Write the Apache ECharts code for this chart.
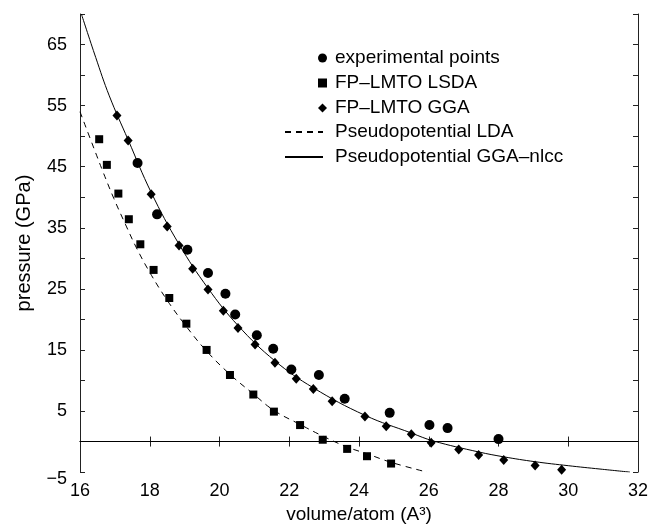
<!DOCTYPE html>
<html><head><meta charset="utf-8">
<script src="https://cdn.jsdelivr.net/npm/echarts@6/dist/echarts.min.js"></script>
<style>html,body{margin:0;padding:0;background:#fff}#c{width:653px;height:529px}</style>
</head><body><div id="c"></div>
<script>
// experimental points
const expVol = [17.65,18.21,19.08,19.67,20.17,20.45,21.07,21.54,22.06,22.85,23.59,24.88,26.02,26.54,28.00];
const expP   = [45.6,37.2,31.4,27.6,24.2,20.8,17.4,15.2,11.8,10.9,7.0,4.7,2.7,2.2,0.4];
// FP-LMTO LSDA
const lsdaVol = [16.55,16.77,17.10,17.40,17.73,18.11,18.56,19.05,19.63,20.30,20.97,21.56,22.31,22.96,23.66,24.23,24.92];
const lsdaP   = [49.5,45.3,40.6,36.4,32.3,28.1,23.5,19.3,15.0,10.9,7.7,4.9,2.7,0.3,-1.2,-2.4,-3.6];
// FP-LMTO GGA
const ggaVol = [17.06,17.38,18.04,18.50,18.84,19.23,19.67,20.11,20.53,21.02,21.59,22.20,22.69,23.23,24.17,24.78,25.50,26.07,26.86,27.43,28.15,29.05,29.81];
const ggaP   = [53.4,49.3,40.5,35.2,32.1,28.3,24.9,21.4,18.6,15.9,12.9,10.3,8.6,6.6,4.1,2.5,1.2,-0.2,-1.3,-2.2,-3.0,-3.9,-4.6];
// Pseudopotential LDA (dashed curve)
const ldaVol = [16.0,16.40,16.65,16.97,17.30,17.62,18.01,18.48,19.00,19.60,20.30,20.97,21.56,22.31,22.96,23.66,24.23,24.92,25.95];
const ldaP   = [54.0,48.0,44.3,39.8,35.6,31.7,27.6,23.3,19.2,15.0,11.0,7.8,5.1,2.8,0.9,-0.9,-2.0,-3.4,-5.0];
// Pseudopotential GGA-nlcc (solid curve)
const nlccVol = [16.04,16.45,16.84,17.38,18.04,18.84,19.67,20.53,21.59,22.69,24.17,25.50,26.13,27.43,28.15,29.05,30.00,30.91,31.77];
const nlccP   = [70.0,62.9,56.6,49.4,40.8,32.3,25.1,19.0,13.2,8.8,4.3,1.4,0.1,-1.7,-2.5,-3.3,-3.95,-4.5,-5.0];
// reference line
const zeroLine = 0;
// tick labels
const xTickLabels = [16,18,20,22,24,26,28,30,32];
const yTickLabels = [-5,5,15,25,35,45,55,65];

const names = ['experimental points','FP–LMTO LSDA','FP–LMTO GGA','Pseudopotential LDA','Pseudopotential GGA–nlcc'];
const FONT = '"Liberation Sans", Arial, Helvetica, sans-serif';
const pair = (xs, ys) => xs.map((x, i) => [x, ys[i]]);
const fmtNum = v => (v < 0 ? '\u2212' + Math.abs(v) : String(v));

const axisColor = '#222';
const baseX = {
  type: 'value', min: 16, max: 32, interval: 2,
  axisLine: {show: true, lineStyle: {color: axisColor, width: 1}},
  axisTick: {show: true, inside: true, length: 5, lineStyle: {color: axisColor}},
  splitLine: {show: false}
};
const baseY = {
  type: 'value', min: -5, max: 70, interval: 5,
  axisLine: {show: true, lineStyle: {color: axisColor, width: 1}},
  axisTick: {show: true, inside: true, length: 5, lineStyle: {color: axisColor}},
  splitLine: {show: false}
};

const chart = echarts.init(document.getElementById('c'), null, {renderer: 'canvas'});
chart.setOption({
  animation: false,
  backgroundColor: '#fff',
  grid: {left: 80, right: 15, top: 14, bottom: 52, containLabel: false},
  xAxis: [
    Object.assign({}, baseX, {
      position: 'bottom',
      name: 'volume/atom (A³)', nameLocation: 'middle', nameGap: 31,
      nameTextStyle: {fontFamily: FONT, fontSize: 19, color: '#000'},
      axisLabel: {show: true, margin: 10, fontFamily: FONT, fontSize: 18, color: '#000',
        hideOverlap: false,
        formatter: v => xTickLabels.includes(v) ? fmtNum(v) : ''}
    }),
    Object.assign({}, baseX, {position: 'top', axisLabel: {show: false}})
  ],
  yAxis: [
    Object.assign({}, baseY, {
      position: 'left',
      name: 'pressure (GPa)', nameLocation: 'middle', nameGap: 46,
      nameTextStyle: {fontFamily: FONT, fontSize: 20, color: '#000'},
      axisLabel: {show: true, margin: 13, fontFamily: FONT, fontSize: 18, color: '#000',
        verticalAlign: 'middle', hideOverlap: false,
        showMaxLabel: true, showMinLabel: true,
        formatter: v => yTickLabels.includes(v) ? (v === -5 ? '{lo|' + fmtNum(v) + '}' : fmtNum(v)) : '',
        rich: {lo: {fontFamily: FONT, fontSize: 18, color: '#000', padding: [14, 0, 0, 0]}}}
    }),
    Object.assign({}, baseY, {position: 'right', axisLabel: {show: false}})
  ],
  legend: [
    {
      orient: 'vertical', left: 313, top: 43, itemWidth: 9, itemHeight: 9, itemGap: 5,
      textStyle: {fontFamily: FONT, fontSize: 19, color: '#000', lineHeight: 20, padding: [0,0,0,3]},
      selectedMode: false,
      data: [
        {name: names[0], icon: 'circle'},
        {name: names[1], icon: 'rect'},
        {name: names[2], icon: 'diamond'}
      ]
    },
    {
      orient: 'vertical', left: 279, top: 117, itemWidth: 38, itemHeight: 14, itemGap: 5,
      textStyle: {fontFamily: FONT, fontSize: 19, color: '#000', lineHeight: 20, padding: [0,0,0,7]},
      itemStyle: {opacity: 0, color: 'transparent', borderWidth: 0},
      selectedMode: false,
      data: [names[3], names[4]]
    }
  ],
  series: [
    {
      name: names[4], type: 'line', data: pair(nlccVol, nlccP), smooth: 0.4,
      symbol: 'none', showSymbol: false, clip: true,
      lineStyle: {color: '#000', width: 1, type: 'solid'}, itemStyle: {color: '#000'},
      markLine: {
        silent: true, symbol: 'none', label: {show: false},
        lineStyle: {color: '#000', width: 1, type: 'solid'},
        data: [{yAxis: zeroLine}]
      },
      z: 2
    },
    {
      name: names[3], type: 'line', data: pair(ldaVol, ldaP), smooth: 0.4,
      symbol: 'none', showSymbol: false, clip: true,
      lineStyle: {color: '#000', width: 1, type: [6, 5]}, itemStyle: {color: '#000'},
      z: 2
    },
    {
      name: names[0], type: 'scatter', data: pair(expVol, expP), symbol: 'circle', symbolSize: 10,
      itemStyle: {color: '#000', opacity: 1}, z: 3
    },
    {
      name: names[1], type: 'scatter', data: pair(lsdaVol, lsdaP), symbol: 'rect', symbolSize: 8,
      itemStyle: {color: '#000', opacity: 1}, z: 3
    },
    {
      name: names[2], type: 'scatter', data: pair(ggaVol, ggaP), symbol: 'diamond', symbolSize: [9, 10],
      itemStyle: {color: '#000', opacity: 1}, z: 3
    }
  ]
});
</script>
</body></html>
